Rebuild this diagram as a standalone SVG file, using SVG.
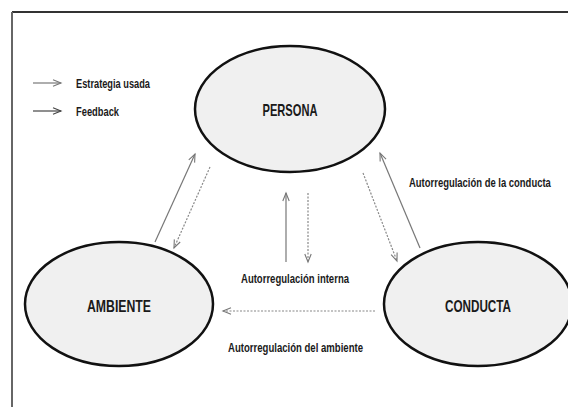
<svg xmlns="http://www.w3.org/2000/svg" width="568" height="407" viewBox="0 0 568 407">
<style>
.node{fill:#f0f0f0;stroke:#111;stroke-width:2.5}
.nt{font-family:"Liberation Sans",Arial,sans-serif;font-weight:bold;font-size:17px;fill:#1a1a1a;text-anchor:middle}
.lbl{font-family:"Liberation Sans",Arial,sans-serif;font-weight:bold;font-size:13.5px;fill:#1a1a1a}
.solid{stroke:#777;stroke-width:1.2;fill:none}
.dot{stroke:#888;stroke-width:1.2;fill:none;stroke-dasharray:2 1.5}
</style>
<defs>
<marker id="ah" markerWidth="12" markerHeight="10" refX="9" refY="4" orient="auto" markerUnits="userSpaceOnUse">
<path d="M1,0.8 L9,4 L1,7.2" fill="none" stroke="#777" stroke-width="1.1"/>
</marker>
<marker id="ahd" markerWidth="12" markerHeight="10" refX="9" refY="4" orient="auto" markerUnits="userSpaceOnUse">
<path d="M1,0.8 L9,4 L1,7.2" fill="none" stroke="#444" stroke-width="1.1"/>
</marker>
</defs>
<rect width="568" height="407" fill="#fff"/>
<g id="frame">
<line x1="12" y1="12" x2="568" y2="12" stroke="#333" stroke-width="2"/>
<line x1="12" y1="12" x2="12" y2="407" stroke="#666" stroke-width="2"/>
</g>
<g id="legend">
<line x1="33" y1="83" x2="61" y2="83" class="solid" marker-end="url(#ah)"/>
<text x="76" y="88" class="lbl" textLength="74" lengthAdjust="spacingAndGlyphs">Estrategia usada</text>
<line x1="33" y1="111" x2="61" y2="111" stroke="#444" stroke-width="1.2" marker-end="url(#ahd)"/>
<text x="76" y="116" class="lbl" textLength="43" lengthAdjust="spacingAndGlyphs">Feedback</text>
</g>
<g id="connectors">
<line x1="155" y1="242" x2="195" y2="154" class="solid" marker-end="url(#ah)"/>
<line x1="210" y1="167" x2="174" y2="248" class="dot" marker-end="url(#ah)"/>
<line x1="286" y1="262" x2="286" y2="193" class="solid" marker-end="url(#ah)"/>
<line x1="308" y1="193" x2="308" y2="262" class="dot" marker-end="url(#ah)"/>
<line x1="363" y1="173" x2="397" y2="261" class="dot" marker-end="url(#ah)"/>
<line x1="420" y1="248" x2="380" y2="153" class="solid" marker-end="url(#ah)"/>
<line x1="375" y1="311" x2="223" y2="311" class="dot" marker-end="url(#ah)"/>
<text transform="translate(409,187) scale(0.72,1)" x="0" y="0" class="lbl" textLength="197" lengthAdjust="spacingAndGlyphs">Autorregulación de la conducta</text>
<text x="241" y="283" class="lbl" textLength="108" lengthAdjust="spacingAndGlyphs">Autorregulación interna</text>
<text x="228" y="352" class="lbl" textLength="135" lengthAdjust="spacingAndGlyphs">Autorregulación del ambiente</text>
</g>
<g id="persona">
<ellipse cx="290" cy="109" rx="95" ry="63" class="node"/>
<text x="290" y="116" class="nt" textLength="55" lengthAdjust="spacingAndGlyphs">PERSONA</text>
</g>
<g id="ambiente">
<ellipse cx="119" cy="304" rx="94" ry="62" class="node"/>
<text x="119" y="312" class="nt" textLength="64" lengthAdjust="spacingAndGlyphs">AMBIENTE</text>
</g>
<g id="conducta">
<ellipse cx="478" cy="304" rx="94" ry="62" class="node"/>
<text x="478" y="312" class="nt" textLength="66" lengthAdjust="spacingAndGlyphs">CONDUCTA</text>
</g>
</svg>
